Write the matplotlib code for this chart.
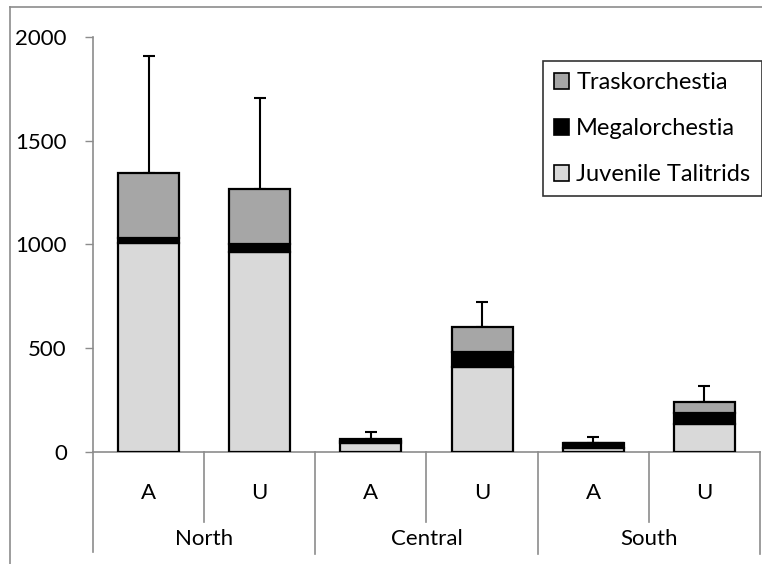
import numpy as np
import matplotlib
matplotlib.use('Agg')
import matplotlib.pyplot as plt
from matplotlib.patches import Patch
from matplotlib.lines import Line2D

plt.rcParams['font.family'] = ['Lato', 'DejaVu Sans']

# data
regions   = ['North', 'Central', 'South']
sites     = ['A', 'U', 'A', 'U', 'A', 'U']
juvenile  = [1005, 964, 45, 411, 18, 133]
mega      = [25, 37, 8, 69, 25, 56]
trask     = [315, 268, 11, 124, 2, 53]
err_upper = [563, 435, 31, 117, 26, 76]

GRAY_AX = '#8c8c8c'
FS = 16

fig = plt.figure(figsize=(7.62, 5.64), dpi=100)
ax = fig.add_axes([93/762, 1-452/564, (760-93)/762, 415/564])

x = np.arange(len(sites))
juv = np.array(juvenile)
meg = np.array(mega)
tra = np.array(trask)
w = 0.55
kw = dict(width=w, edgecolor='black', linewidth=1.6, zorder=3)
ax.bar(x, juv, color='#d9d9d9', **kw)
ax.bar(x, meg, bottom=juv, color='black', **kw)
ax.bar(x, tra, bottom=juv + meg, color='#a6a6a6', **kw)

top = juv + meg + tra
ax.errorbar(x, top, yerr=[np.zeros(len(x)), err_upper], fmt='none',
            ecolor='black', elinewidth=1.5, capsize=4.3, capthick=1.5, zorder=2)

ax.set_xlim(-0.5, len(sites) - 0.5)
ax.set_ylim(0, 2000)
ax.set_yticks([0, 500, 1000, 1500, 2000])
ax.tick_params(axis='y', direction='out', length=5.8, width=1, color=GRAY_AX,
               pad=13, labelsize=FS)
ax.set_xticks([])
for s in ['top', 'right']:
    ax.spines[s].set_visible(False)
ax.spines['bottom'].set_color(GRAY_AX)
ax.spines['left'].set_color(GRAY_AX)
ax.spines['bottom'].set_linewidth(1.2)
ax.spines['left'].set_linewidth(1.2)

# category table below the axis
trans = ax.get_xaxis_transform()
ax.plot([-0.5, -0.5], [0, -0.24], color=GRAY_AX, lw=1.2, transform=trans, clip_on=False)
for i in range(len(sites)):
    edge = i + 0.5
    ybot = -0.245 if i % 2 == 1 else -0.169
    ax.plot([edge, edge], [0, ybot], color=GRAY_AX, lw=1.2, transform=trans, clip_on=False)
    ax.text(i, -0.099, sites[i], ha='center', va='center', fontsize=FS,
            transform=trans)
for j, r in enumerate(regions):
    ax.text(2*j + 0.5, -0.21, r, ha='center', va='center', fontsize=FS,
            transform=trans)

# chart border (cut off on the right and bottom)
fig.add_artist(Line2D([10/762, 10/762], [0, 1-7/564], color=GRAY_AX, lw=1.2))
fig.add_artist(Line2D([10/762, 1], [1-7/564, 1-7/564], color=GRAY_AX, lw=1.2))

handles = [Patch(facecolor='#a6a6a6', edgecolor='black', lw=1.2),
           Patch(facecolor='black', edgecolor='black', lw=1.2),
           Patch(facecolor='#d9d9d9', edgecolor='black', lw=1.2)]
labels = ['Traskorchestia', 'Megalorchestia', 'Juvenile Talitrids']
leg = fig.legend(handles, labels, loc='upper left',
                 bbox_to_anchor=(543/762, 1-61/564), fontsize=17,
                 frameon=True, fancybox=False, edgecolor='black',
                 handlelength=0.64, handleheight=0.64, handletextpad=0.3,
                 labelspacing=1.06, borderpad=0.47, borderaxespad=0)
leg.get_frame().set_linewidth(1.2)

fig.savefig('out.png', dpi=100)
